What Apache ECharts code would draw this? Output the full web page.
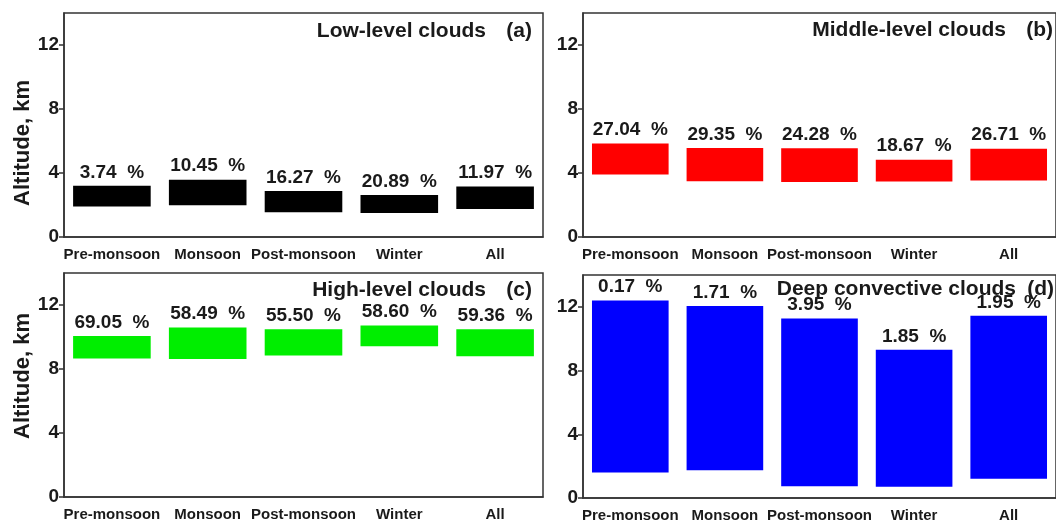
<!DOCTYPE html>
<html>
<head>
<meta charset="utf-8">
<script src="https://cdn.jsdelivr.net/npm/echarts@6/dist/echarts.min.js"></script>
<style>
  html, body { margin: 0; padding: 0; background: #fff; }
  #chart { width: 1056px; height: 523px; }
</style>
</head>
<body>
<div id="chart"></div>
<script>
// Seasons on the x axis of every panel
const categories = ['Pre-monsoon', 'Monsoon', 'Post-monsoon', 'Winter', 'All'];
const yTicks = [0, 4, 8, 12];

// Cloud base / top altitude (km) and occurrence (%) per season
const lowBase  = [1.91, 1.98, 1.54, 1.50, 1.75];
const lowTop   = [3.20, 3.58, 2.87, 2.62, 3.16];
const lowPct   = ['3.74', '10.45', '16.27', '20.89', '11.97'];

const midBase  = [3.91, 3.49, 3.43, 3.47, 3.53];
const midTop   = [5.85, 5.56, 5.54, 4.83, 5.52];
const midPct   = ['27.04', '29.35', '24.28', '18.67', '26.71'];

const highBase = [8.66, 8.62, 8.85, 9.42, 8.79];
const highTop  = [10.07, 10.59, 10.49, 10.72, 10.49];
const highPct  = ['69.05', '58.49', '55.50', '58.60', '59.36'];

const deepBase = [1.60, 1.75, 0.73, 0.71, 1.21];
const deepTop  = [12.40, 12.06, 11.27, 9.30, 11.44];
const deepPct  = ['0.17', '1.71', '3.95', '1.85', '1.95'];

const FONT = '"Liberation Sans", Arial, sans-serif';
const INK = '#1a1a1a';

const panels = [
  { base: lowBase,  top: lowTop,  pct: lowPct,  color: '#000000', title: 'Low-level clouds',       tag: '(a)',
    grid: { left: 64,  top: 13,  width: 479, height: 224 }, yName: 'Altitude, km', nameY: 143, tx: 486, tagX: 532, ty: 31 },
  { base: midBase,  top: midTop,  pct: midPct,  color: '#ff0000', title: 'Middle-level clouds',    tag: '(b)',
    grid: { left: 583, top: 13,  width: 479, height: 224 }, yName: '', tx: 1006, tagX: 1053, ty: 30 },
  { base: highBase, top: highTop, pct: highPct, color: '#00ee00', title: 'High-level clouds',      tag: '(c)',
    grid: { left: 64,  top: 273, width: 479, height: 224 }, yName: 'Altitude, km', nameY: 376, tx: 486, tagX: 532, ty: 290 },
  { base: deepBase, top: deepTop, pct: deepPct, color: '#0000ff', title: 'Deep convective clouds', tag: '(d)',
    grid: { left: 583, top: 275, width: 479, height: 224 }, yName: '', tx: 1016, tagX: 1054, ty: 289 }
];

const grid = [], xAxis = [], yAxis = [], series = [], graphic = [];
const boldText = (size) => 'bold ' + size + 'px ' + FONT;

panels.forEach((p, i) => {
  grid.push(Object.assign({ show: true, borderColor: '#333', borderWidth: 1.5, backgroundColor: 'transparent' }, p.grid));

  xAxis.push({
    type: 'category', gridIndex: i, data: categories,
    axisLine: { lineStyle: { color: '#333', width: 1.5 } },
    axisTick: { alignWithLabel: true, length: 5, lineStyle: { color: '#333', width: 1.5 } },
    axisLabel: { interval: 0, hideOverlap: false, color: INK, fontFamily: FONT, fontWeight: 'bold', fontSize: 15, margin: 10 }
  });

  yAxis.push({
    type: 'value', gridIndex: i, min: 0, max: 14, interval: 4,
    splitLine: { show: false },
    axisLine: { show: true, lineStyle: { color: '#333', width: 1.5 } },
    axisTick: { show: true, length: 5, customValues: yTicks, lineStyle: { color: '#333', width: 1.5 } },
    axisLabel: { customValues: yTicks, color: INK, fontFamily: FONT, fontWeight: 'bold', fontSize: 19, margin: 5 }
  });

  // invisible offset up to the cloud base
  series.push({
    type: 'bar', xAxisIndex: i, yAxisIndex: i, stack: 'layer' + i,
    data: p.base, barWidth: '81%', silent: true,
    itemStyle: { color: 'transparent' }
  });
  // visible cloud layer from base to top
  series.push({
    type: 'bar', xAxisIndex: i, yAxisIndex: i, stack: 'layer' + i,
    data: p.top.map((t, k) => +(t - p.base[k]).toFixed(2)), barWidth: '81%',
    itemStyle: { color: p.color },
    label: {
      show: true, position: 'top', distance: 4,
      formatter: (d) => p.pct[d.dataIndex] + '  %',
      color: INK, fontFamily: FONT, fontWeight: 'bold', fontSize: 19
    }
  });

  graphic.push({
    type: 'text', x: p.tx, y: p.ty,
    style: { text: p.title, textAlign: 'right', textVerticalAlign: 'middle', fill: INK, font: boldText(21) }
  });
  graphic.push({
    type: 'text', x: p.tagX, y: p.ty,
    style: { text: p.tag, textAlign: 'right', textVerticalAlign: 'middle', fill: INK, font: boldText(21) }
  });
  if (p.yName) {
    graphic.push({
      type: 'text', x: 23, y: p.nameY, rotation: Math.PI / 2,
      style: { text: p.yName, textAlign: 'center', textVerticalAlign: 'middle', fill: INK, font: boldText(22) }
    });
  }
});

const chart = echarts.init(document.getElementById('chart'), null, { renderer: 'canvas' });
chart.setOption({
  animation: false,
  backgroundColor: '#ffffff',
  grid, xAxis, yAxis, series, graphic
});
</script>
</body>
</html>
